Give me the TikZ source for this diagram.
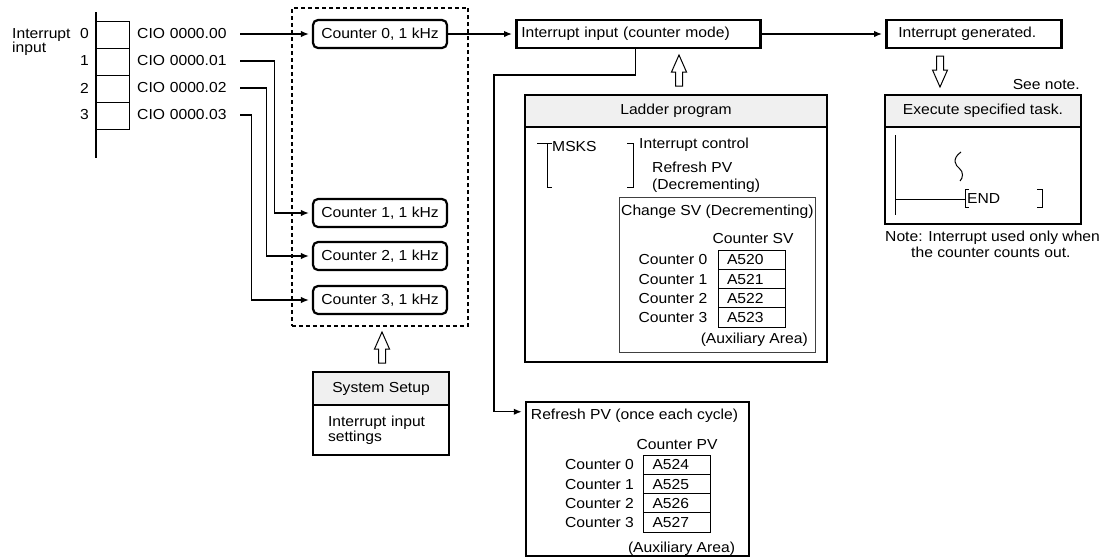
\documentclass[tikz,border=0pt]{standalone}
\usepackage{fontspec}
\setmainfont{Liberation Sans}[FakeStretch=1.08]
\usetikzlibrary{arrows.meta,positioning,fit,calc}

\tikzset{
  lbl/.style={inner sep=2pt},
  box/.style={draw, line width=1.2pt, inner sep=0pt, outer sep=0pt},
  hdr/.style={draw, line width=1.2pt, fill=gray!12, outer sep=0pt},
  boldbox/.style={draw, line width=2.5pt, minimum height=28pt, align=left},
  cnt/.style={draw, line width=2.2pt, rounded corners=5pt, minimum width=134pt, minimum height=28pt},
  cell/.style={draw, line width=1pt, minimum width=33pt, minimum height=27pt},
  vcell/.style={draw, line width=1pt, minimum width=67pt, minimum height=19.3pt, text width=49pt, inner xsep=9pt, inner ysep=0pt, align=left},
  arr/.style={-{Latex[length=8pt,width=6.5pt]}, shorten >=3pt, line width=1.4pt},
  rung/.style={line width=1pt},
  hollow/.pic={\draw[line width=1pt, fill=white] (-3.5,15) -- (-3.5,1) -- (-7.5,1) -- (0,-16) -- (7.5,1) -- (3.5,1) -- (3.5,15) -- cycle;}
}

\begin{document}
\begin{tikzpicture}[x=1pt, y=-1pt, line cap=butt, font=\fontsize{14.5}{15.5}\selectfont]
  \useasboundingbox (0,0) rectangle (1105,558);

  % input word CIO 0000
  \node[lbl, anchor=north west, align=left, font=\fontsize{14.5}{11.5}\selectfont] (intin) at (10,26) {Interrupt\\input};
  \draw[line width=1.2pt] (96,12) -- (96,158);
  \foreach \i in {0,...,3} {
    \node[cell] (in\i) at (112.5,34.5+27*\i) {};
    \node[lbl, anchor=east] (bit\i) at (91,34+27*\i) {\i};
    \node[lbl, anchor=west, text width=100pt, inner xsep=3pt, align=left] (cio\i) at (134,34+27*\i) {CIO 0000.0\i};
  }

  \foreach \i/\y in {0/34,1/213,2/256,3/300}
    \node[cnt] (cnt\i) at (380,\y) {Counter \i, 1 kHz};
  \node[draw, dashed, dash pattern=on 4pt off 3pt, line width=1.3pt, fit=(cnt0)(cnt3), inner xsep=20pt, inner ysep=11pt] (grp) {};

  \draw[arr] (cio0.east) -- (cnt0.west);
  \foreach \i/\dx in {1/34,2/26,3/11}
    \draw[arr] (cio\i.east) -- ++(\dx,0) |- (cnt\i.west);

  \node[boldbox, anchor=west, text width=234pt, inner xsep=5pt] (iim) at (515,34) {Interrupt input (counter mode)};
  \node[boldbox, anchor=west, text width=151pt, inner xsep=12pt] (igen) at (885,34) {Interrupt generated.};
  \draw[arr] (cnt0) -- (iim);
  \draw[arr] (iim) -- (igen);

  % ladder program
  \node[hdr, minimum width=302pt, minimum height=32pt] (ladhd) at (676,111) {Ladder program};
  \node[box, minimum width=302pt, minimum height=235pt, below=0pt of ladhd] (ladbd) {};
  \pic at (679,71) {hollow};
  \draw[rung] (537,143) -- (552,143) (547,143) -- (547,187) -- (552,187);
  \draw[rung] (627,143) -- (633,143) -- (633,187) -- (627,187);
  \node[lbl, anchor=west] (msks) at (550,147) {MSKS};
  \node[lbl, anchor=west] (ictl) at (637,145) {Interrupt control};
  \node[lbl, anchor=west] (rfpv) at (650,167) {Refresh PV};
  \node[lbl, anchor=west] (decr) at (650,186) {(Decrementing)};

  \node[draw=black!75, line width=1pt, minimum width=196pt, minimum height=155pt, outer sep=0pt] (chsv) at (717,274.5) {};
  \node[lbl, anchor=west] (chsvt) at ([yshift=-15pt]chsv.north west) {Change SV (Decrementing)};
  \node[lbl] (svt) at (753,238) {Counter SV};
  \foreach \i in {0,...,3} {
    \node[vcell] (sv\i) at (751.5,259.7+19.3*\i) {A52\i};
    \node[lbl, left=8pt of sv\i] (svl\i) {Counter \i};
  }
  \node[lbl, anchor=east] (svaux) at ([xshift=-5pt,yshift=12pt]chsv.south east) {(Auxiliary Area)};

  % refresh of the present value
  \node[draw, line width=2.5pt, minimum width=223pt, minimum height=154pt] (rpv) at (637.5,479) {};
  \node[lbl, anchor=west] (rpvt) at ([xshift=4pt,yshift=-15pt]rpv.north west) {Refresh PV (once each cycle)};
  \node[lbl] (pvt) at (677,444) {Counter PV};
  \foreach \i [evaluate=\i as \n using int(\i+4)] in {0,...,3} {
    \node[vcell] (pv\i) at (677,464.7+19.3*\i) {A52\n};
    \node[lbl, left=7pt of pv\i] (pvl\i) {Counter \i};
  }
  \node[lbl, anchor=east] (pvaux) at ([xshift=-13pt,yshift=9pt]rpv.south east) {(Auxiliary Area)};

  \coordinate (turn) at (494,75);
  \draw[arr] ([xshift=-3pt]iim.south) |- (turn) |- ([yshift=-11pt]rpv.north west);

  % system setup
  \pic at (382,348) {hollow};
  \node[hdr, minimum width=136pt, minimum height=33pt] (syshd) at (381,388.5) {System Setup};
  \node[box, minimum width=136pt, minimum height=50pt, text width=106pt, inner xsep=15pt, align=left, below=0pt of syshd] (sysbd) {Interrupt input\\settings};

  % interrupt task
  \pic[rotate=180] at (940,71) {hollow};
  \node[hdr, minimum width=196pt, minimum height=32pt] (exhd) at (983,111) {Execute specified task.};
  \node[box, minimum width=196pt, minimum height=97pt, below=0pt of exhd] (exbd) {};
  \node[lbl, anchor=south east, inner sep=1pt] (seenote) at ([yshift=4pt]exhd.north east) {See note.};
  \draw[rung] (895,135) -- (895,215) (895,199) -- (965,199);
  \draw[rung] (961,152) .. controls (951,159) and (956,166) .. (959,168) .. controls (964,172) and (963,178) .. (960,181);
  \draw[rung] (969,189) -- (965,189) -- (965,207) -- (969,207);
  \draw[rung] (1037,189) -- (1042,189) -- (1042,207) -- (1037,207);
  \node[lbl, anchor=west, inner sep=1pt] (endt) at (966,199) {END};
  \node[lbl, anchor=north west, align=left] (note) at ([xshift=-2pt,yshift=-5pt]exbd.south west) {Note: Interrupt used only when\\\hspace*{26pt}the counter counts out.};
\end{tikzpicture}
\end{document}
